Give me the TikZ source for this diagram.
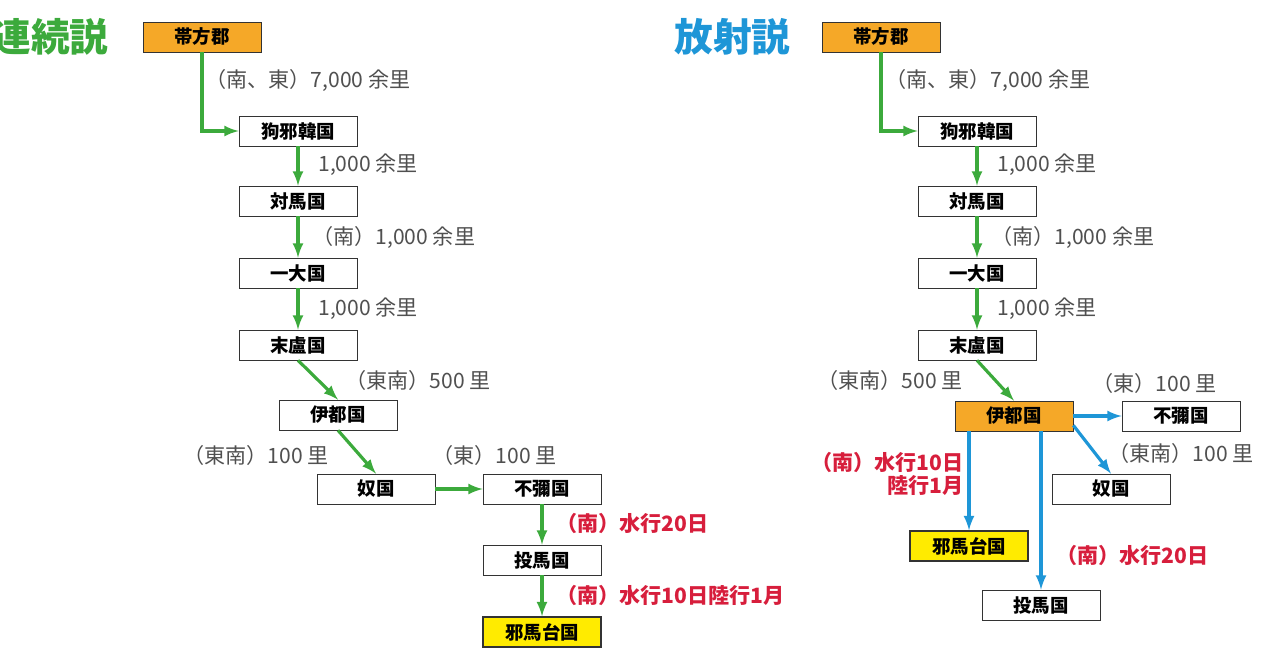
\documentclass[tikz,border=0pt]{standalone}
\usepackage{fontspec}
\setmainfont{Noto Sans CJK JP}
\usetikzlibrary{arrows, positioning}
\definecolor{rgreen}{RGB}{60,170,60}
\definecolor{rblue}{RGB}{30,150,215}
\definecolor{rred}{RGB}{215,30,60}
\definecolor{rorange}{RGB}{245,168,40}
\definecolor{ryellow}{RGB}{255,235,0}
\definecolor{rgray}{RGB}{80,80,80}

\begin{document}
\begin{tikzpicture}[x=0.02cm, y=-0.02cm, >=latex,
    box/.style={draw=black!80, fill=white, minimum width=2.36cm, minimum height=0.6cm, inner sep=0pt, font=\fontsize{10.5}{12}\selectfont\bfseries},
    start/.style={box, fill=rorange},
    goal/.style={box, fill=ryellow, line width=0.8pt},
    lbl/.style={anchor=west, inner sep=0pt, text=rgray, font=\fontsize{12}{14}\selectfont},
    rlbl/.style={lbl, text=rred, font=\fontsize{12}{14}\selectfont\bfseries},
    garr/.style={-latex, rgreen, line width=1.8pt},
    barr/.style={-latex, rblue, line width=1.8pt}]
    \useasboundingbox (0,0) rectangle (1280,670);

    % Left: continuous reading
    \node [anchor=west, inner sep=0pt, text=rgreen, font=\fontsize{22}{26}\selectfont\bfseries] (title_l) at (-8,37) {連続説};
    \node [start] (tai_l) at (202,37) {帯方郡};
    \node [box] (ku_l) at (298,131) {狗邪韓国};
    \node [box] (tsu_l) at (298,201) {対馬国};
    \node [box] (iki_l) at (298,273) {一大国};
    \node [box] (matsu_l) at (298,345) {末盧国};
    \node [box] (ito_l) at (338,415) {伊都国};
    \node [box] (na_l) at (376,489) {奴国};
    \node [box] (fumi_l) at (542,489) {不彌国};
    \node [box] (tou_l) at (542,560) {投馬国};
    \node [goal] (yama_l) at (542,632) {邪馬台国};

    \draw [garr] (tai_l.south) |- (ku_l.west);
    \draw [garr] (ku_l) -- (tsu_l);
    \draw [garr] (tsu_l) -- (iki_l);
    \draw [garr] (iki_l) -- (matsu_l);
    \draw [garr] (matsu_l.south) -- (ito_l.north);
    \draw [garr] (ito_l.south) -- (na_l.north);
    \draw [garr] (na_l) -- (fumi_l);
    \draw [garr] (fumi_l) -- (tou_l);
    \draw [garr] (tou_l) -- (yama_l);

    \node [lbl] (d1_l) at (205,80) {（南、東）7,000 余里};
    \node [lbl] (d2_l) at (318,165) {1,000 余里};
    \node [lbl] (d3_l) at (312,237) {（南）1,000 余里};
    \node [lbl] (d4_l) at (318,309) {1,000 余里};
    \node [lbl] (d5_l) at (345,380) {（東南）500 里};
    \node [lbl] (d6_l) at (183,455) {（東南）100 里};
    \node [lbl] (d7_l) at (432,455) {（東）100 里};
    \node [rlbl] (d8_l) at (556,523) {（南）水行20日};
    \node [rlbl] (d9_l) at (556,595) {（南）水行10日陸行1月};

    % Right: radial reading
    \node [anchor=west, inner sep=0pt, text=rblue, font=\fontsize{22}{26}\selectfont\bfseries] (title_r) at (674,37) {放射説};
    \node [start] (tai_r) at (881,37) {帯方郡};
    \node [box] (ku_r) at (977,131) {狗邪韓国};
    \node [box] (tsu_r) at (977,201) {対馬国};
    \node [box] (iki_r) at (977,273) {一大国};
    \node [box] (matsu_r) at (977,345) {末盧国};
    \node [start] (ito_r) at (1014,416) {伊都国};
    \node [box] (fumi_r) at (1181,416) {不彌国};
    \node [box] (na_r) at (1111,489) {奴国};
    \node [goal] (yama_r) at (969,546) {邪馬台国};
    \node [box] (tou_r) at (1041,605) {投馬国};

    \draw [garr] (tai_r.south) |- (ku_r.west);
    \draw [garr] (ku_r) -- (tsu_r);
    \draw [garr] (tsu_r) -- (iki_r);
    \draw [garr] (iki_r) -- (matsu_r);
    \draw [garr] (matsu_r.south) -- (ito_r.north);
    \draw [barr] (ito_r) -- (fumi_r);
    \draw [barr] (ito_r.south east) ++(0,-6) -- (na_r.north);
    \draw [barr] (ito_r.south -| yama_r) -- (yama_r.north);
    \draw [barr] (ito_r.south -| tou_r) -- (tou_r.north);

    \node [lbl] (d1_r) at (885,80) {（南、東）7,000 余里};
    \node [lbl] (d2_r) at (997,165) {1,000 余里};
    \node [lbl] (d3_r) at (991,237) {（南）1,000 余里};
    \node [lbl] (d4_r) at (997,309) {1,000 余里};
    \node [lbl] (d5_r) at (817,380) {（東南）500 里};
    \node [lbl] (d6_r) at (1092,383) {（東）100 里};
    \node [lbl] (d7_r) at (1108,453) {（東南）100 里};
    \node [rlbl, anchor=north east, align=right, font=\fontsize{12}{13}\selectfont\bfseries] (d8_r) at (964,452) {（南）水行10日\\陸行1月};
    \node [rlbl] (d9_r) at (1056,555) {（南）水行20日};
\end{tikzpicture}
\end{document}
